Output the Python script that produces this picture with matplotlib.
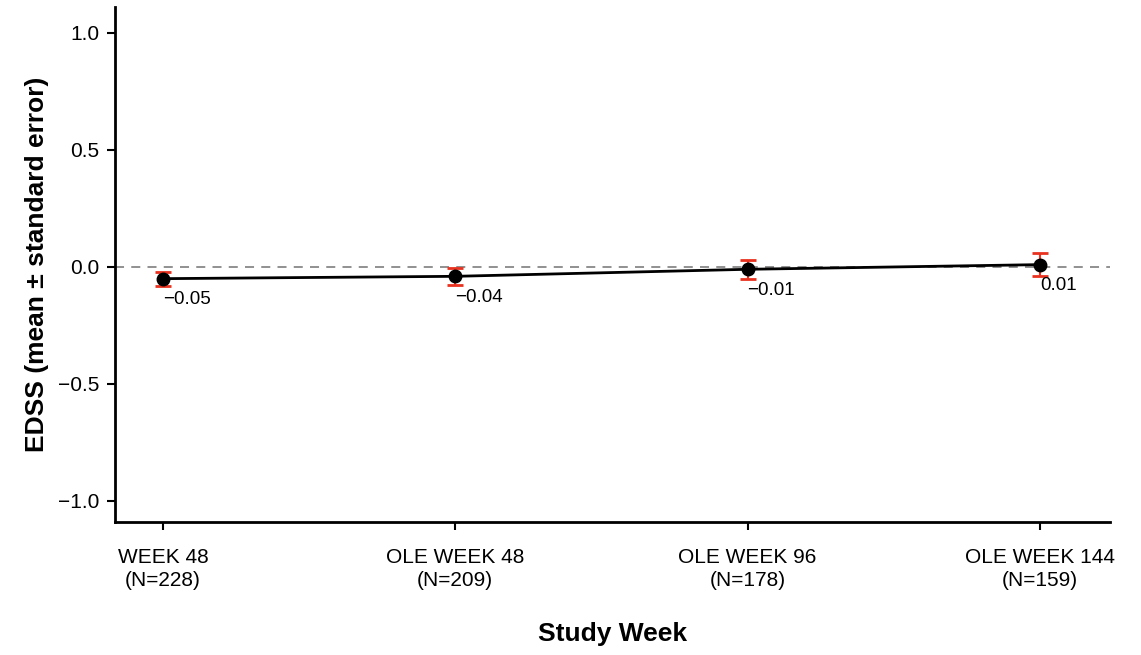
# EDSS change over study weeks
from matplotlib import pyplot as plt

plt.rcParams['font.family'] = ['Liberation Sans', 'DejaVu Sans']

weeks = ['WEEK 48\n(N=228)', 'OLE WEEK 48\n(N=209)', 'OLE WEEK 96\n(N=178)', 'OLE WEEK 144\n(N=159)']
means = [-0.05, -0.04, -0.01, 0.01]
errors = [0.03, 0.037, 0.04, 0.05]
labels = ['\u22120.05', '\u22120.04', '\u22120.01', '0.01']

fig = plt.figure(figsize=(11.41, 6.55), dpi=100)
ax = fig.add_axes([0.1008, 0.203, 0.872, 0.786])

x = list(range(len(weeks)))
ax.axhline(0, color='#888888', linestyle=(0, (5, 4)), linewidth=1.3, zorder=1)
ax.plot(x, means, color='black', linewidth=2, zorder=2)
ax.errorbar(x, means, yerr=errors, fmt='none', ecolor='#e8311f', elinewidth=1.5,
            capsize=6, capthick=2, zorder=3)
ax.plot(x, means, 'o', color='black', markersize=9, zorder=4)

for xi, m, lab in zip(x, means, labels):
    ax.annotate(lab, (xi, m), xytext=(0, -9), textcoords='offset points',
                ha='left', va='top', fontsize=13.5)

ax.set_xlim(-0.164, 3.24)
ax.set_ylim(-1.09, 1.11)
ax.set_xticks(x)
ax.set_xticklabels(weeks, fontsize=15, linespacing=1.25)
ax.set_yticks([-1.0, -0.5, 0.0, 0.5, 1.0])
ax.set_yticklabels(['\u22121.0', '\u22120.5', '0.0', '0.5', '1.0'], fontsize=15)
ax.tick_params(width=1.5, length=6)
ax.tick_params(axis='x', pad=13)
ax.tick_params(axis='y', pad=5)
for s in ['top', 'right']:
    ax.spines[s].set_visible(False)
for s in ['left', 'bottom']:
    ax.spines[s].set_linewidth(2)

ax.set_xlabel('Study Week', fontsize=19, fontweight='bold', labelpad=23)
ax.set_ylabel('EDSS (mean \u00b1 standard error)', fontsize=19, fontweight='bold', labelpad=7)

plt.savefig('out.png', dpi=100)
